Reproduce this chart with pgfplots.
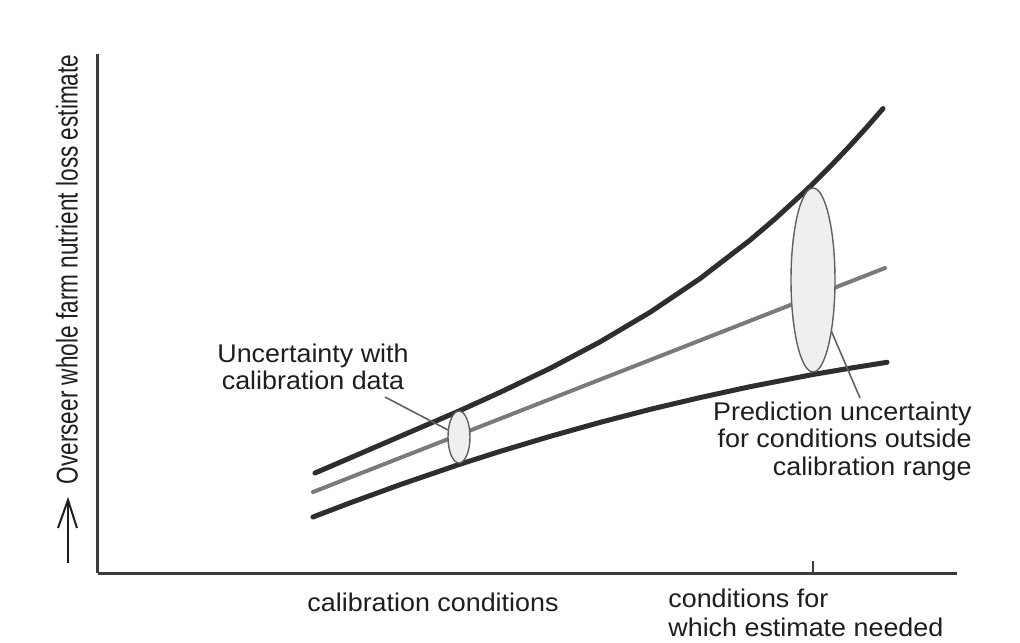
\documentclass[border=0pt]{standalone}
\usepackage{pgfplots}
\pgfplotsset{compat=1.18}
\usepackage{fontspec}
\setmainfont{Liberation Sans}[FakeStretch=1.05]
\newfontfamily\ylfont{Liberation Sans}
\definecolor{curvedark}{HTML}{2E2E2E}
\definecolor{midgray}{HTML}{7A7A7A}
\definecolor{axisgray}{HTML}{3C3C3C}
\definecolor{ellfill}{HTML}{EFEFEF}
\definecolor{elledge}{HTML}{606060}
\definecolor{txt}{HTML}{1E1E1E}
\begin{document}
\begin{tikzpicture}
\begin{axis}[
  x=0.5pt, y=0.5pt,
  xmin=98, xmax=957, ymin=0, ymax=519,
  axis x line*=bottom, axis y line*=left,
  axis line style={line width=1.5pt, color=axisgray, -},
  xtick={813}, xticklabels={}, ytick=\empty,
  major tick length=6pt, xtick align=inside,
  tick style={line width=0.6pt, color=axisgray},
  clip=false,
]
\path (axis cs:0,-69) rectangle (axis cs:1020,573);
% ellipses (uncertainty)
\addplot[only marks, mark=*, mark size=5.5pt,
  mark options={yscale=2.36, fill=ellfill, draw=elledge, line width=0.7pt}]
  coordinates {(459,136)};
\addplot[only marks, mark=*, mark size=11pt,
  mark options={yscale=4.18, fill=ellfill, draw=elledge, line width=0.7pt}]
  coordinates {(813,293)};
% upper curve
\addplot[line width=2.5pt, color=curvedark, line cap=round, line join=round] coordinates {
  (315,100) (350,115) (400,136.6) (459,162) (500,180.6) (550,204.6) (600,231.1)
  (650,260.7) (700,294.4) (750,332.8) (775,354.1) (807,383.5) (830,406.3)
  (850,427.3) (866,444.9) (883,464.4)};
% middle line
\addplot[line width=2pt, color=midgray, line cap=round] coordinates {
  (313,81) (885,305)};
% lower curve
\addplot[line width=2.5pt, color=curvedark, line cap=round, line join=round] coordinates {
  (313,56) (350,70.1) (400,88.3) (459,108.5) (500,121.6) (550,136.6) (600,150.6)
  (650,163.6) (700,175.4) (750,186.3) (813,198.5) (850,204.8) (887,210.7)};
% pointer lines
\addplot[line width=0.8pt, color=elledge] coordinates {(385,176) (448,143)};
\addplot[line width=0.8pt, color=elledge] coordinates {(830,245) (860,175)};
% annotations
\node[txt, font=\fontsize{12.8}{13.5}\selectfont, align=center, inner sep=0pt]
  at (axis cs:313,206.5) {Uncertainty with\\calibration data};
\node[txt, font=\fontsize{12.8}{13.75}\selectfont, align=right, anchor=east, inner sep=0pt]
  at (axis cs:972,132) {Prediction uncertainty\\for conditions outside\\calibration range};
\node[txt, font=\fontsize{12.8}{14.5}\selectfont, inner sep=0pt]
  at (axis cs:433,-29) {calibration conditions};
\node[txt, font=\fontsize{12.8}{14.5}\selectfont, align=left, anchor=west, inner sep=0pt]
  at (axis cs:668,-39.5) {conditions for\\which estimate needed};
\node[txt, rotate=90, inner sep=0pt, font=\ylfont\fontsize{15}{17}\selectfont]
  at (axis cs:67,303.5) {\scalebox{0.754}[1]{Overseer whole farm nutrient loss estimate}};
\draw[txt, line width=1pt] (axis cs:68,10) -- (axis cs:68,73);
\draw[txt, line width=1pt, line join=miter] (axis cs:58,45) -- (axis cs:68,73) -- (axis cs:77,45);
\end{axis}
\end{tikzpicture}
\end{document}
